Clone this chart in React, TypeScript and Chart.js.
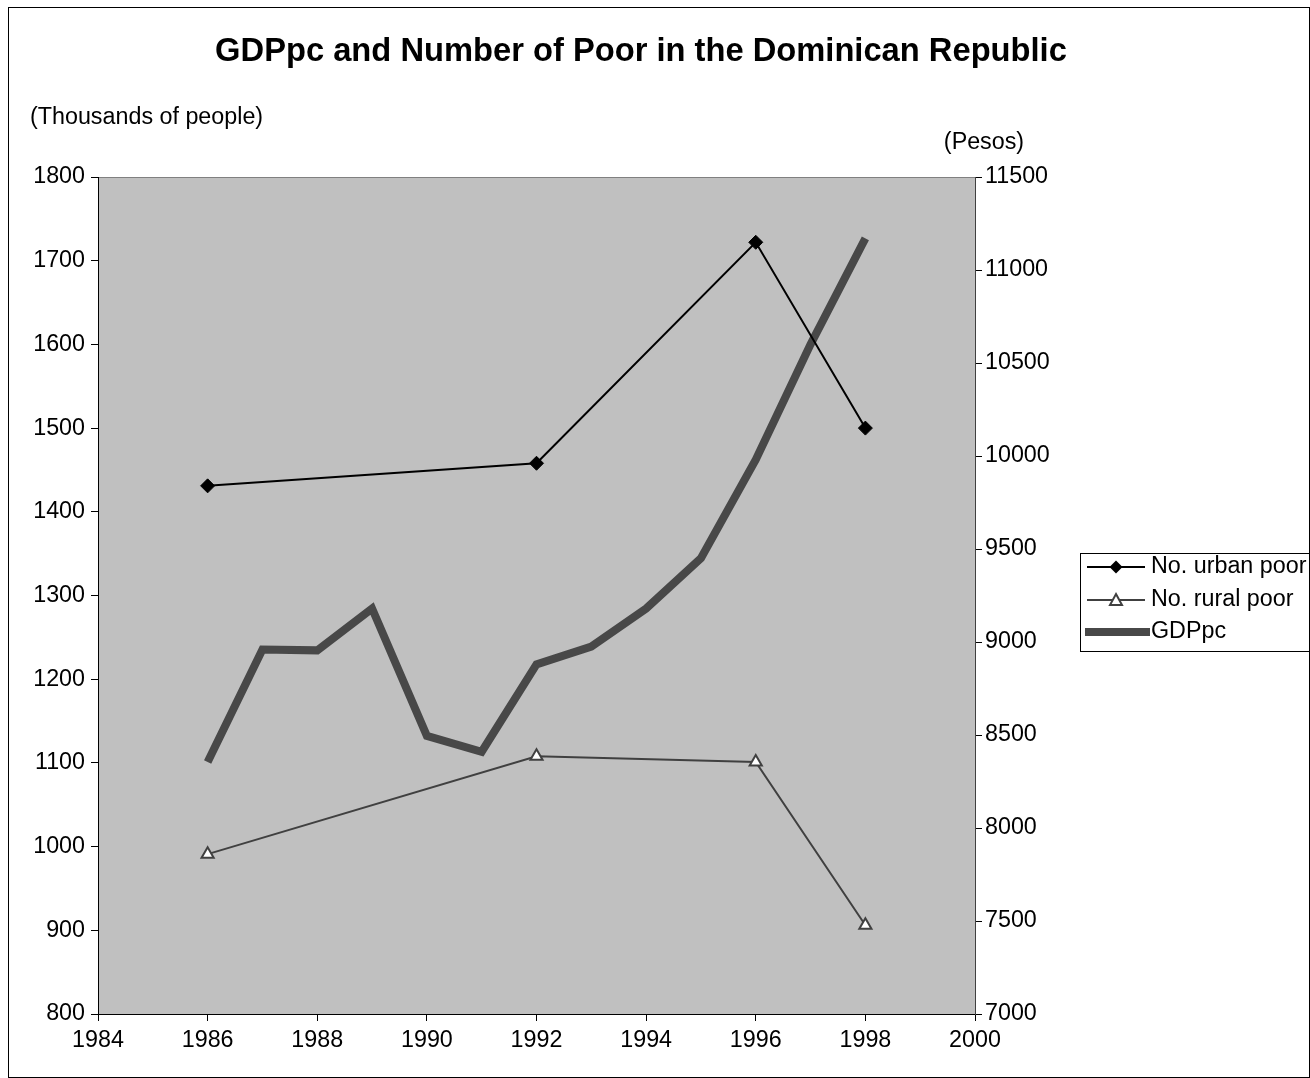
import React, { useEffect, useRef } from "react";
import { Chart, registerables } from "chart.js";

Chart.register(...registerables);

const urbanYears = [1986, 1992, 1996, 1998];
const urbanPoor = [1431, 1458, 1722, 1500];
const ruralPoor = [991, 1108, 1101, 906];
const gdpYears = [1986, 1987, 1988, 1989, 1990, 1991, 1992, 1993, 1994, 1995, 1996, 1997, 1998];
const gdpPc = [8355, 8960, 8955, 9180, 8495, 8410, 8880, 8975, 9180, 9450, 9980, 10600, 11170];

const titleText = "GDPpc and Number of Poor in the Dominican Republic";
const leftAxisLabel = "(Thousands of people)";
const rightAxisLabel = "(Pesos)";
const legendLabels = ["No. urban poor", "No. rural poor", "GDPpc"];

const FONT = "'Liberation Sans', Arial, sans-serif";
const W = 1310;
const H = 1078;
const FS = 23.3;

const decorPlugin = {
  id: "decor",
  beforeDraw(chart: any) {
    const { ctx, chartArea } = chart;
    ctx.save();
    ctx.fillStyle = "#ffffff";
    ctx.fillRect(0, 0, W, H);
    ctx.fillStyle = "#c0c0c0";
    ctx.fillRect(chartArea.left, chartArea.top, chartArea.right - chartArea.left, chartArea.bottom - chartArea.top);
    ctx.strokeStyle = "#808080";
    ctx.lineWidth = 1;
    ctx.strokeRect(chartArea.left + 0.5, chartArea.top + 0.5, chartArea.right - chartArea.left, chartArea.bottom - chartArea.top);
    ctx.restore();
  },
  afterDraw(chart: any) {
    const { ctx } = chart;
    ctx.save();
    // outer frame
    ctx.strokeStyle = "#000";
    ctx.lineWidth = 1;
    ctx.strokeRect(8.5, 7.5, 1301, 1070);
    // title
    ctx.fillStyle = "#000";
    ctx.font = `bold 32.7px ${FONT}`;
    ctx.textAlign = "center";
    ctx.textBaseline = "middle";
    ctx.fillText(titleText, 641, 52);
    // axis captions
    ctx.font = `${FS}px ${FONT}`;
    ctx.textAlign = "left";
    ctx.fillText(leftAxisLabel, 30, 118);
    ctx.textAlign = "center";
    ctx.fillText(rightAxisLabel, 984, 143);
    // legend
    ctx.strokeStyle = "#000";
    ctx.lineWidth = 1;
    ctx.strokeRect(1080.5, 553.5, 229, 98);
    const rows = [567, 600, 632];
    const x0 = 1087, x1 = 1145, xm = 1116;
    // urban
    ctx.strokeStyle = "#000";
    ctx.lineWidth = 2;
    ctx.beginPath(); ctx.moveTo(x0, rows[0]); ctx.lineTo(x1, rows[0]); ctx.stroke();
    ctx.fillStyle = "#000";
    ctx.beginPath();
    ctx.moveTo(xm, rows[0] - 6.5); ctx.lineTo(xm + 6.5, rows[0]); ctx.lineTo(xm, rows[0] + 6.5); ctx.lineTo(xm - 6.5, rows[0]);
    ctx.closePath(); ctx.fill();
    // rural
    ctx.strokeStyle = "#404040";
    ctx.lineWidth = 2;
    ctx.beginPath(); ctx.moveTo(x0, rows[1]); ctx.lineTo(x1, rows[1]); ctx.stroke();
    ctx.fillStyle = "#fff";
    ctx.beginPath();
    ctx.moveTo(xm, rows[1] - 6); ctx.lineTo(xm + 6, rows[1] + 5); ctx.lineTo(xm - 6, rows[1] + 5);
    ctx.closePath(); ctx.fill(); ctx.stroke();
    // gdp
    ctx.strokeStyle = "#484848";
    ctx.lineWidth = 8;
    ctx.lineCap = "butt";
    ctx.beginPath(); ctx.moveTo(x0 - 2, rows[2]); ctx.lineTo(x1 + 5, rows[2]); ctx.stroke();
    // legend text
    ctx.fillStyle = "#000";
    ctx.font = `${FS}px ${FONT}`;
    ctx.textAlign = "left";
    ctx.textBaseline = "middle";
    legendLabels.forEach((t, i) => ctx.fillText(t, 1151, rows[i]));
    ctx.restore();
  },
};

export default function App() {
  const ref = useRef<HTMLCanvasElement | null>(null);
  useEffect(() => {
    if (!ref.current) return;
    Chart.defaults.font.family = FONT;
    const tickFont = { family: FONT, size: FS };
    const plain = (v: any) => String(v);
    const chart = new Chart(ref.current, {
      type: "line",
      data: {
        datasets: [
          {
            label: legendLabels[0],
            data: urbanYears.map((x, i) => ({ x, y: urbanPoor[i] })),
            yAxisID: "y",
            borderColor: "#000",
            backgroundColor: "#000",
            borderWidth: 2,
            pointStyle: "rectRot",
            pointRadius: 7,
            pointBorderWidth: 1,
            order: 1,
          },
          {
            label: legendLabels[1],
            data: urbanYears.map((x, i) => ({ x, y: ruralPoor[i] })),
            yAxisID: "y",
            borderColor: "#404040",
            backgroundColor: "#fff",
            borderWidth: 2,
            pointStyle: "triangle",
            pointRadius: 7,
            pointBorderWidth: 2,
            order: 2,
          },
          {
            label: legendLabels[2],
            data: gdpYears.map((x, i) => ({ x, y: gdpPc[i] })),
            yAxisID: "y1",
            borderColor: "#484848",
            backgroundColor: "#484848",
            borderWidth: 8,
            borderCapStyle: "butt",
            borderJoinStyle: "miter",
            pointRadius: 0,
            order: 3,
          },
        ],
      },
      options: {
        responsive: false,
        animation: false,
        devicePixelRatio: 1,
        layout: { padding: { top: 177, left: 0, right: 0, bottom: 0 } },
        plugins: {
          legend: { display: false },
          title: { display: false },
          tooltip: { enabled: false },
        },
        scales: {
          x: {
            type: "linear",
            min: 1984,
            max: 2000,
            ticks: { stepSize: 2, color: "#000", font: tickFont, padding: 6, maxRotation: 0, callback: plain },
            grid: { drawOnChartArea: false, drawTicks: true, tickLength: 7, color: "#000" },
            border: { display: true, color: "#000" },
            afterFit: (s: any) => { s.height = H - 1014; },
          },
          y: {
            type: "linear",
            position: "left",
            min: 800,
            max: 1800,
            ticks: { stepSize: 100, color: "#000", font: tickFont, padding: 6, callback: plain },
            grid: { drawOnChartArea: false, drawTicks: true, tickLength: 7, color: "#000" },
            border: { display: true, color: "#000" },
            afterFit: (s: any) => { s.width = 98; },
          },
          y1: {
            type: "linear",
            position: "right",
            min: 7000,
            max: 11500,
            ticks: { stepSize: 500, color: "#000", font: tickFont, padding: 3, callback: plain },
            grid: { drawOnChartArea: false, drawTicks: true, tickLength: 7, color: "#000" },
            border: { display: true, color: "#404040" },
            afterFit: (s: any) => { s.width = W - 975; },
          },
        },
      },
      plugins: [decorPlugin],
    } as any);
    return () => chart.destroy();
  }, []);
  return (
    <div style={{ position: "fixed", left: 0, top: 0, width: W, height: H, background: "#fff" }}>
      <canvas ref={ref} width={W} height={H} style={{ width: W, height: H, display: "block" }} />
    </div>
  );
}
